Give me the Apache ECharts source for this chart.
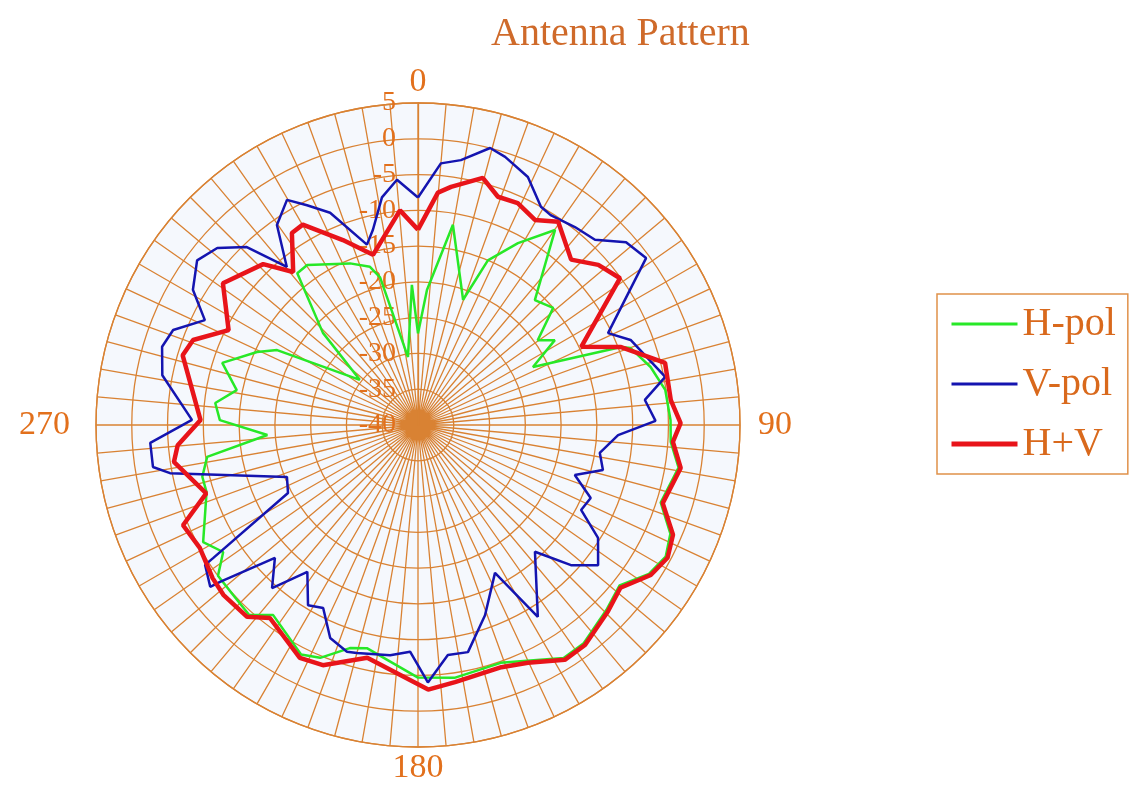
<!DOCTYPE html>
<html>
<head>
<meta charset="utf-8">
<script src="https://cdn.jsdelivr.net/npm/echarts@6/dist/echarts.min.js"></script>
<style>
  html, body { margin: 0; padding: 0; background: #fff; }
  #chart { width: 1129px; height: 787px; }
</style>
</head>
<body>
<div id="chart"></div>
<script>
// angles in degrees (clockwise from top), values in dB
const hpolAngles = [0, 3.8, 9.9, 19.8, 23, 28.8, 35.1, 43.1, 49.1, 54.7, 58.2, 63.2, 69, 70.1, 76, 81.9, 88.9, 93.8, 99.3, 107.7,
  113.3, 118, 122.8, 128.5, 134.5, 142.8, 148, 155.2, 160.8, 171.8, 180, 192.9, 197, 202.8, 207, 217.3, 221.7, 227.4, 233, 236.9,
  241.4, 252.4, 256.5, 261.4, 266.2, 271.4, 276.2, 280.9, 287.6, 294.4, 298, 307.8, 314.1, 321.5, 325.3, 337.2, 343.1, 345.6, 351.6, 357.5, 360];
const hpolDb = [-27.2, -21.1, -11.6, -21.4, -15.0, -11.0, -6.7, -16.1, -15.0, -19.5, -17.5, -22.0, -9.6, -8.4, -6.5, -5.1, -4.7, -4.6, -3.1, -4.4,
  -1.6, -0.8, -1.6, -4.0, -3.1, -1.7, -1.6, -3.7, -4.8, -4.3, -4.7, -8.0, -7.4, -4.7, -4.0, -6.6, -4.5, -4.9, -5.0, -7.5,
  -5.8, -9.0, -9.0, -10.2, -18.9, -12.3, -11.5, -14.2, -11.3, -15.3, -17.7, -29.7, -21.5, -12.9, -12.8, -15.5, -16.9, -18.7, -30.4, -20.4, -27.2];

const vpolAngles = [0, 5, 9.2, 14.6, 18, 23.9, 29.4, 32.3, 38.4, 43.7, 48.7, 53.8, 64.2, 68.2, 79, 83.7, 89, 92.9, 98.7, 103.7,
  107.7, 112.9, 117.5, 122.1, 127.9, 132.5, 137.3, 148, 152.5, 160.6, 167.6, 172.6, 177.8, 182, 186.9, 195, 197.4, 202.4, 207.4, 211.4,
  217, 221.8, 227.1, 231.6, 232.1, 236.7, 237, 242.4, 248.4, 259, 261, 266.2, 271.3, 281, 287, 291.2, 296.2, 301, 306.7, 311.4,
  316.1, 320.3, 324.8, 329.8, 333.2, 337.5, 344.2, 347, 351, 355.1, 360];
const vpolDb = [-8.2, -3.3, -2.5, 0.0, -0.6, -2.1, -5.0, -5.3, -4.7, -4.2, -1.3, -0.5, -10.5, -8.0, -4.8, -8.1, -6.8, -12.0, -14.3, -13.4,
  -17.0, -13.8, -14.3, -10.3, -8.1, -11.0, -15.9, -8.4, -16.7, -11.8, -7.5, -7.6, -4.0, -8.3, -7.6, -7.0, -6.8, -7.8, -11.2, -10.5,
  -14.3, -9.4, -12.7, -4.7, -3.2, -4.4, -5.9, -19.5, -20.3, -4.7, -2.5, -2.5, -8.4, -3.6, -2.6, -3.3, -6.8, -3.3, -1.5, -2.6,
  -5.5, -11.3, -5.8, -3.6, -5.6, -7.9, -13.8, -12.0, -7.8, -5.6, -8.2];

const sumAngles = [0, 4.9, 7.9, 14.7, 19.3, 24.2, 29.7, 34.6, 42.8, 48.4, 54, 64.4, 69, 75.9, 84.4, 89.6, 93.8, 99.3, 107.7, 113.3,
  118, 122.8, 128.8, 134.5, 142.8, 148, 155.2, 161, 171.8, 177.8, 192.3, 201.6, 206.9, 217.5, 221.7, 228.9, 233.3, 240.6, 246.9, 252.1,
  261.4, 265.2, 271.3, 286.5, 290.7, 296.6, 306, 316.1, 320.8, 326.7, 330.1, 337.9, 345.2, 355.2, 360];
const sumDb = [-12.7, -7.4, -6.4, -4.3, -6.2, -6.0, -7.0, -5.5, -8.5, -6.3, -5.1, -14.7, -9.6, -4.4, -4.5, -3.3, -4.3, -2.8, -4.1, -1.2,
  -0.5, -1.3, -3.7, -2.8, -1.4, -1.3, -3.4, -4.2, -3.7, -3.0, -6.7, -3.9, -3.5, -6.0, -4.1, -3.9, -4.2, -5.0, -4.3, -8.9,
  -5.5, -6.3, -9.6, -5.7, -6.4, -10.4, -6.3, -8.8, -12.4, -7.9, -7.7, -12.1, -15.4, -9.9, -12.7];

const angleLabels = { 0: 't', 90: 'r', 180: 'b', 270: 'l' };

const grid = '#d98233';
const textCol = '#e2701c';
const serif = 'Liberation Serif';
const cx = 418, cy = 425, R = 322;

function pairs(angles, vals) {
  return angles.map((a, i) => [vals[i], a]);
}

const lbl = { fontFamily: serif, fontSize: 34, color: textCol };

const chart = echarts.init(document.getElementById('chart'));
chart.setOption({
  backgroundColor: '#fff',
  animation: false,
  title: {
    text: 'Antenna Pattern',
    left: 486, top: 9,
    textStyle: { fontFamily: serif, fontSize: 40, fontWeight: 'normal', color: '#cf6a2a' }
  },
  graphic: [{
    type: 'circle', z: -10, silent: true,
    shape: { cx: cx, cy: cy, r: R },
    style: { fill: '#f5f8fd' }
  }],
  legend: {
    orient: 'vertical',
    left: 937, top: 294,
    padding: [10, 12, 10, 12],
    itemWidth: 66, itemHeight: 20, itemGap: 20,
    borderColor: '#e0914a', borderWidth: 1.5,
    itemStyle: { opacity: 0 },
    textStyle: { fontFamily: serif, fontSize: 40, color: '#d9691c', lineHeight: 40 },
    data: [
      { name: 'H-pol', lineStyle: { width: 3 } },
      { name: 'V-pol', lineStyle: { width: 3 } },
      { name: 'H+V', lineStyle: { width: 5 } }
    ]
  },
  polar: { center: [cx, cy], radius: R },
  angleAxis: {
    type: 'value', min: 0, max: 360, interval: 5,
    startAngle: 90, clockwise: true,
    axisLine: { lineStyle: { color: grid, width: 1.3 } },
    axisTick: { show: false },
    splitLine: { lineStyle: { color: grid, width: 1.3 } },
    axisLabel: {
      margin: 4,
      formatter: v => angleLabels[v] ? '{' + angleLabels[v] + '|' + v + '}' : '',
      rich: {
        t: Object.assign({ padding: [0, 0, 0, 0] }, lbl),
        r: Object.assign({ padding: [0, 0, 0, 14] }, lbl),
        b: Object.assign({ padding: [0, 0, 0, 0] }, lbl),
        l: Object.assign({ padding: [0, 22, 0, 0] }, lbl)
      }
    }
  },
  radiusAxis: {
    type: 'value', min: -40, max: 5, interval: 5,
    axisLine: { lineStyle: { color: grid, width: 1.3 } },
    axisTick: { show: false },
    splitLine: { show: true, lineStyle: { color: grid, width: 1.3 } },
    axisLabel: { margin: 22, fontFamily: serif, fontSize: 28, color: textCol }
  },
  series: [
    { type: 'line', name: 'H-pol', coordinateSystem: 'polar', symbol: 'none',
      lineStyle: { color: '#27e827', width: 2.5 }, itemStyle: { color: '#27e827' },
      data: pairs(hpolAngles, hpolDb) },
    { type: 'line', name: 'V-pol', coordinateSystem: 'polar', symbol: 'none',
      lineStyle: { color: '#1414b0', width: 2.5 }, itemStyle: { color: '#1414b0' },
      data: pairs(vpolAngles, vpolDb) },
    { type: 'line', name: 'H+V', coordinateSystem: 'polar', symbol: 'none',
      lineStyle: { color: '#e8141a', width: 4.5 }, itemStyle: { color: '#e8141a' },
      data: pairs(sumAngles, sumDb) }
  ]
});
</script>
</body>
</html>
